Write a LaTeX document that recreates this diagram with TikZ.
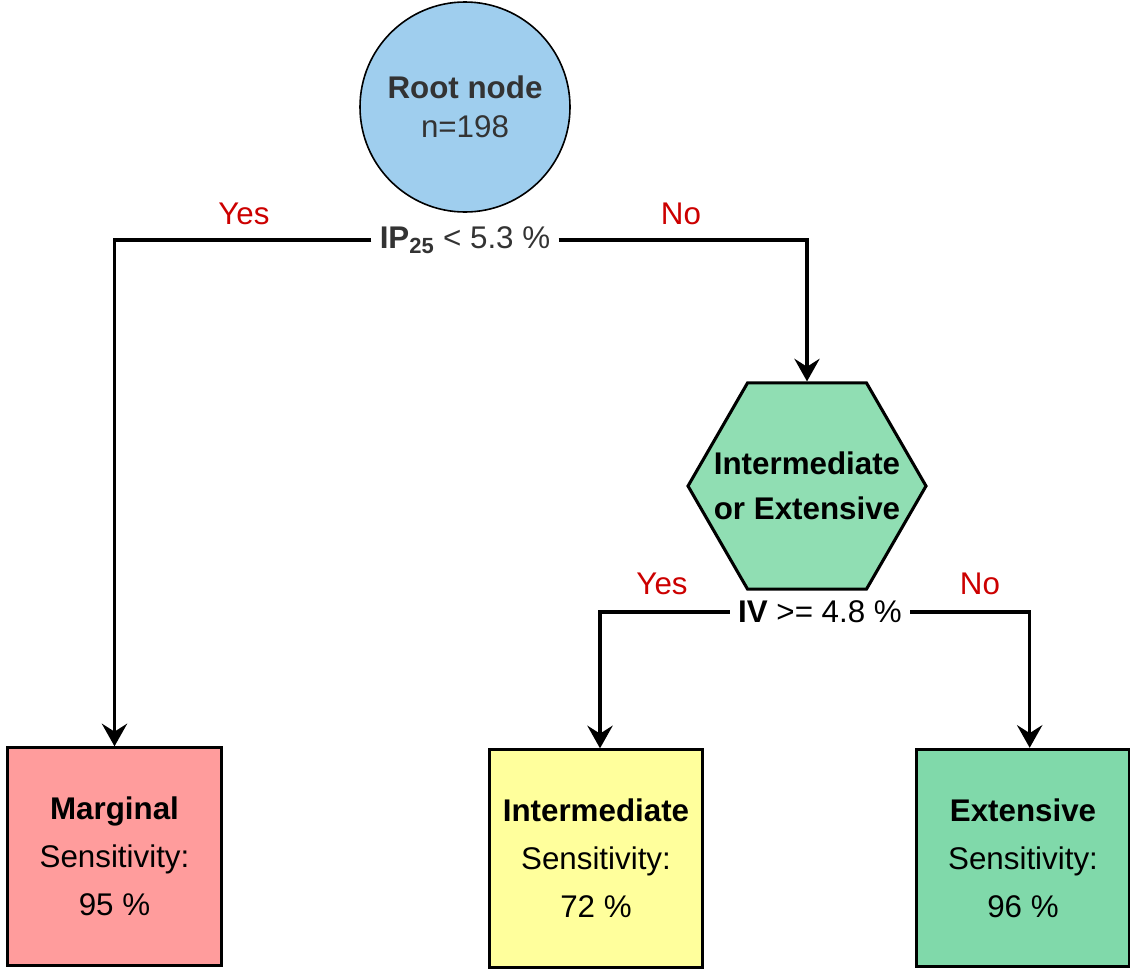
\documentclass[tikz,border=0pt]{standalone}
\usepackage{fontspec}
\setmainfont{Liberation Sans}
\usetikzlibrary{shapes.geometric}
\usetikzlibrary{arrows.meta}

\definecolor{rootblue}{HTML}{9FCEEE}
\definecolor{hexgreen}{HTML}{90DEB3}
\definecolor{margred}{HTML}{FF9C9C}
\definecolor{interyellow}{HTML}{FFFF9C}
\definecolor{extgreen}{HTML}{80D9AA}
\definecolor{answerred}{HTML}{CC0000}
\definecolor{darktext}{HTML}{333333}

\begin{document}
\begin{tikzpicture}[x=0.75pt, y=-0.75pt,
every node/.style={font=\fontsize{23.5}{36}\selectfont},
leaf/.style={draw, line width=2.3pt, rectangle, minimum width=160pt, minimum height=163pt, align=center},
cond/.style={inner sep=6pt},
answer/.style={text=answerred},
branch/.style={line width=2.3pt, -{Stealth[length=17pt,width=19pt,inset=6pt]}}]
\useasboundingbox (0,0) rectangle (1130,968);
\node[circle, draw, line width=1.2pt, fill=rootblue, minimum size=157.5pt, align=center, text=darktext, font=\fontsize{23.5}{29}\selectfont] (root) at (465,107) {\textbf{Root node}\\n=198};
\node[cond, text=darktext] (ip) at (465,240) {\textbf{IP\textsubscript{25}} < 5.3 \%};
\node[answer] (yes1) at (244,214) {Yes};
\node[answer] (no1) at (681,214) {No};
\node[regular polygon, regular polygon sides=6, draw, line width=2.3pt, fill=hexgreen, minimum size=178.5pt, inner sep=0pt] (hex) at (807,486) {};
\node[font=\bfseries\fontsize{23.5}{34}\selectfont, align=center] (hexlabel) at (hex.center) {Intermediate\\or Extensive};
\node[cond] (iv) at (820,612) {\textbf{IV} >= 4.8 \%};
\node[answer] (yes2) at (662,584) {Yes};
\node[answer] (no2) at (980,584) {No};
\node[leaf, fill=margred] (marg) at (114.5,856.5) {\textbf{Marginal}\\Sensitivity:\\95 \%};
\node[leaf, fill=interyellow] (inter) at (596,858.5) {\textbf{Intermediate}\\Sensitivity:\\72 \%};
\node[leaf, fill=extgreen] (ext) at (1023,858) {\textbf{Extensive}\\Sensitivity:\\96 \%};
\draw[branch] (ip.west) -| (marg.north);
\draw[branch] (ip.east) -| (hex.north);
\draw[branch] (iv.west) -| ([xshift=3pt]inter.north);
\draw[branch] (iv.east) -| ([xshift=5pt]ext.north);
\end{tikzpicture}
\end{document}
